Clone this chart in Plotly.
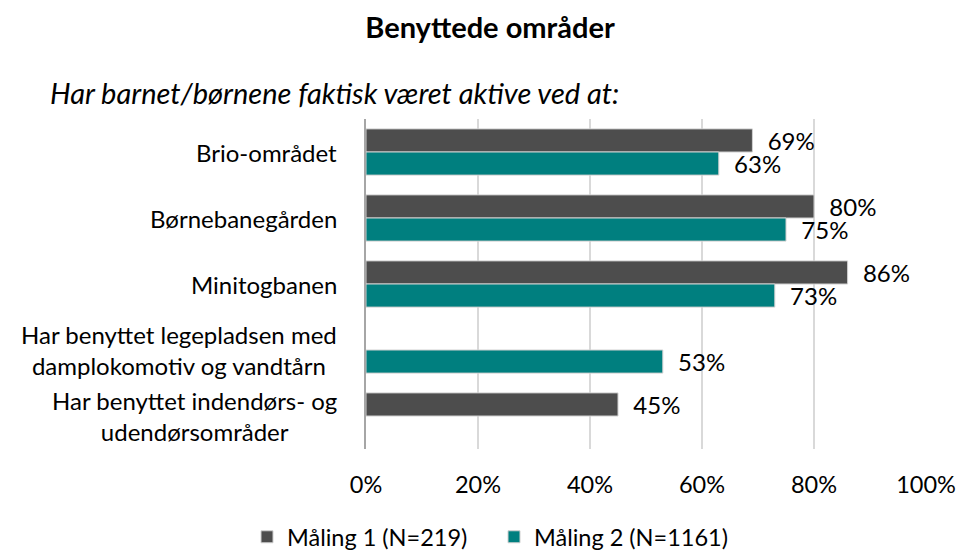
import plotly.graph_objects as go

# ---- data ----
categories = ["Brio", "Børnebanegården", "Minitogbanen", "Legeplads", "Indendørs"]
category_labels = [
    "Brio-området",
    "Børnebanegården",
    "Minitogbanen",
    "Har benyttet legepladsen med<br>damplokomotiv og vandtårn",
    "Har benyttet indendørs- og<br>udendørsområder",
]
maling1 = [69, 80, 86, None, 45]
maling2 = [63, 75, 73, 53, None]
series_names = ["Måling 1 (N=219)", "Måling 2 (N=1161)"]
tick_values = [0, 20, 40, 60, 80, 100]
tick_labels = ["0%", "20%", "40%", "60%", "80%", "100%"]

title_text = "<b>Benyttede områder</b>"
subtitle_text = "<i>Har barnet/børnene faktisk været aktive ved at:</i>"

FONT = "Lato"
GREY = "#4d4d4d"
TEAL = "#007f7f"

W, H = 957, 551
L, R, T, B = 366, 31, 119, 102
PW = W - L - R
PH = H - T - B

fig = go.Figure()
for name, vals, col in [(series_names[0], maling1, GREY), (series_names[1], maling2, TEAL)]:
    fig.add_trace(go.Bar(
        name=name, y=categories, x=vals, orientation="h",
        marker=dict(color=col, line=dict(color="#d0d0d0", width=1)),
        text=["\u00a0\u00a0%d%%" % v if v is not None else "" for v in vals],
        texttemplate="%{text}", textposition="outside",
        textfont=dict(family=FONT, size=24, color="#000000"),
        constraintext="none", cliponaxis=False,
    ))

for cat, lab in zip(categories, category_labels):
    fig.add_annotation(
        xref="paper", x=0, xanchor="right", xshift=-27,
        yref="y", y=cat, yanchor="middle",
        text=lab, align="center", showarrow=False,
        font=dict(family=FONT, size=24, color="#000000"),
    )

fig.add_annotation(
    xref="paper", x=(48 - L) / PW, xanchor="left",
    yref="paper", y=(T + PH - 92) / PH, yanchor="middle",
    text=subtitle_text, showarrow=False,
    font=dict(family=FONT, size=29, color="#000000"),
)

fig.update_layout(
    width=W, height=H,
    margin=dict(l=L, r=R, t=T, b=B, autoexpand=False),
    paper_bgcolor="white", plot_bgcolor="white",
    barmode="group", bargap=0.30, bargroupgap=0,
    title=dict(text=title_text, x=490 / W, xref="container", xanchor="center",
               y=1 - 28 / H, yref="container", yanchor="middle",
               font=dict(family=FONT, size=29, color="#000000")),
    font=dict(family=FONT, size=24, color="#000000"),
    legend=dict(orientation="h", xref="container", x=494 / W, xanchor="center",
                yref="container", y=1 - 537 / H, yanchor="middle",
                font=dict(family=FONT, size=23.5, color="#000000"),
                itemwidth=30, entrywidth=202, traceorder="normal"),
    showlegend=True,
)
fig.update_xaxes(range=[0, 100], tickvals=tick_values, ticktext=tick_labels,
                 showgrid=True, gridcolor="#d9d9d9", gridwidth=1.5,
                 zeroline=False, showline=False, ticks="",
                 ticklabelstandoff=19, automargin=False,
                 tickfont=dict(family=FONT, size=23.5, color="#000000"))
fig.update_yaxes(categoryorder="array", categoryarray=categories,
                 autorange="reversed", showticklabels=False, automargin=False,
                 showline=True, linecolor="#a6a6a6", linewidth=2,
                 showgrid=False, zeroline=False, ticks="")

fig.write_html("out.html",
               config={"displayModeBar": False},
               post_script="document.body.style.margin='0';"
                           "document.body.style.overflow='hidden';")
